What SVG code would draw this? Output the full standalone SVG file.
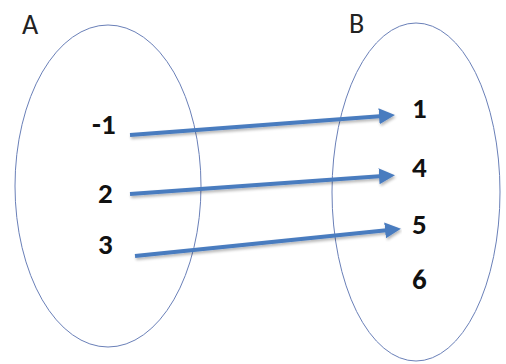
<svg xmlns="http://www.w3.org/2000/svg" width="506" height="364" viewBox="0 0 506 364">
<defs>
<style>
.set{fill:none;stroke:#6a80b8;stroke-width:1}
.lbl{font-family:"Carlito","Liberation Sans",sans-serif;font-size:28px;fill:#222}
.num{font-family:"Carlito","Liberation Sans",sans-serif;font-size:29px;font-weight:bold;fill:#111}
.arr{stroke:#4a7cbf;stroke-width:4;fill:none;marker-end:url(#ah)}
</style>
<marker id="ah" markerWidth="4" markerHeight="4" refX="1" refY="2" orient="auto" markerUnits="strokeWidth">
<path d="M0,0 L4,2 L0,4 Z" fill="#4a7cbf"/>
</marker>
<filter id="sh" x="-5%" y="-50%" width="110%" height="200%">
<feGaussianBlur in="SourceAlpha" stdDeviation="1.5"/>
<feOffset dx="1" dy="2" result="b"/>
<feComponentTransfer><feFuncA type="linear" slope="0.3"/></feComponentTransfer>
<feMerge><feMergeNode/><feMergeNode in="SourceGraphic"/></feMerge>
</filter>
</defs>
<rect width="506" height="364" fill="#fff"/>
<g id="setA">
<ellipse class="set" cx="108" cy="186" rx="93" ry="161"/>
<text class="lbl" x="22" y="34">A</text>
<text class="num" x="92" y="134">-1</text>
<text class="num" x="98" y="203">2</text>
<text class="num" x="98" y="254">3</text>
</g>
<g id="setB">
<ellipse class="set" cx="416" cy="192" rx="84" ry="169"/>
<text class="lbl" x="349" y="33">B</text>
<text class="num" x="412" y="118">1</text>
<text class="num" x="412" y="177">4</text>
<text class="num" x="412" y="234">5</text>
<text class="num" x="412" y="289">6</text>
</g>
<g id="connectors" filter="url(#sh)">
<line class="arr" x1="130" y1="135" x2="383" y2="116"/>
<line class="arr" x1="130" y1="194" x2="383" y2="176"/>
<line class="arr" x1="135" y1="256" x2="389" y2="230"/>
</g>
</svg>
